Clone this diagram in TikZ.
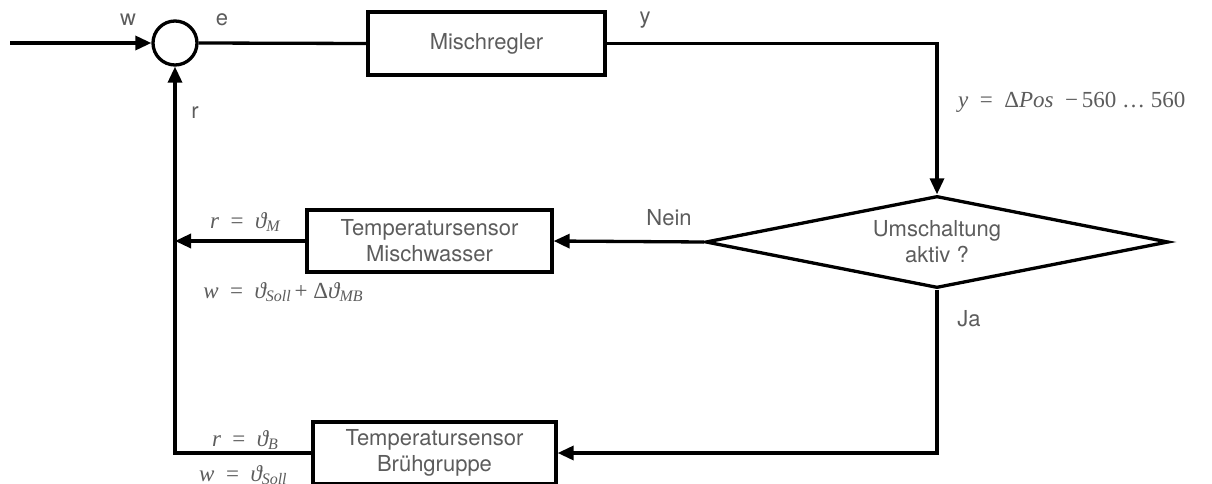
\documentclass[tikz,border=0pt]{standalone}
\usepackage{fontspec}
\setmainfont{TeX Gyre Heros}
\newfontfamily\tm{Liberation Serif}
\usetikzlibrary{shapes.geometric,arrows.meta}
\definecolor{txt}{RGB}{92,92,92}
% italic Times-like formula text with lowered subscripts
\newcommand{\fml}[1]{{\tm\itshape\color{txt}#1}}
\newcommand{\sbs}[1]{\raisebox{-0.35ex}{\fontsize{16}{16}\selectfont #1}}
\newcommand{\eqs}{\hspace{0.5em}{\upshape =}\hspace{0.5em}}
\begin{document}
\begin{tikzpicture}[x=1pt,y=1pt,
  line/.style={line width=3.3pt},
  arr/.style={line width=3.3pt,-{Triangle[length=16pt,width=14pt]}},
  blk/.style={draw,line width=3.3pt,rectangle,inner sep=0pt,align=center,
    font=\fontsize{22}{26}\selectfont,text=txt},
  lbl/.style={font=\fontsize{22}{26}\selectfont,text=txt,inner sep=0pt},
  mth/.style={font=\fontsize{23}{26}\selectfont,inner sep=0pt}]
\useasboundingbox (0,0) rectangle (1212,-484);
\begin{scope}
\clip (0,0) rectangle (1212,-484);
% blocks
\node[draw,circle,line width=3.3pt,minimum size=44pt,inner sep=0pt] (sum) at (175,-43) {};
\node[blk,minimum width=237pt,minimum height=63pt] (mr) at (486.5,-43.5) {Mischregler};
\node[draw,diamond,shape aspect=5,line width=3.3pt,minimum width=463pt,minimum height=92pt,inner sep=0pt,
  align=center,font=\fontsize{22}{26}\selectfont,text=txt] (dec) at (937,-242) {Umschaltung\\aktiv ?};
\node[blk,minimum width=245pt,minimum height=62pt] (mw) at (429.5,-241) {Temperatursensor\\Mischwasser};
\node[blk,minimum width=243pt,minimum height=62pt] (bg) at (434.5,-453) {Temperatursensor\\Brühgruppe};
\coordinate (in) at (10,-43);
\coordinate (jm) at (sum.south |- mw.west);
% connectors
\draw[arr] (in) -- (sum.west);
\draw[line] (sum.east) -- (mr.west);
\draw[arr] (mr.east) -| (dec.north);
\draw[arr] (dec.west) -- (mw.east);
\draw[arr] (mw.west) -- (jm);
\draw[arr] (dec.south) |- (bg.east);
\draw[arr] (bg.west) -| (sum.south);
% signal labels
\node[lbl] (lw) at (128,-20) {w};
\node[lbl] (le) at (222,-20) {e};
\node[lbl] (ly) at (645,-20) {y};
\node[lbl] (lr) at (195,-113) {r};
\node[lbl] (lnein) at (669,-218) {Nein};
\node[lbl] (lja) at (969,-319) {Ja};
% formulas
\node[mth,anchor=west] (fy) at (958,-102) {\fml{y\eqs{\upshape Δ}Pos\hspace{0.5em}{\upshape −\,560 … 560}}};
\node[mth] (frm) at (245,-222) {\fml{r\eqs ϑ\sbs{M}}};
\node[mth] (fwm) at (283,-292) {\fml{w\eqs ϑ\sbs{Soll}\,{\upshape + Δ}ϑ\sbs{MB}}};
\node[mth] (frb) at (245,-440) {\fml{r\eqs ϑ\sbs{B}}};
\node[mth,anchor=west] (fwb) at (199,-475) {\fml{w\eqs ϑ\sbs{Soll}}};
\end{scope}
\end{tikzpicture}
\end{document}
